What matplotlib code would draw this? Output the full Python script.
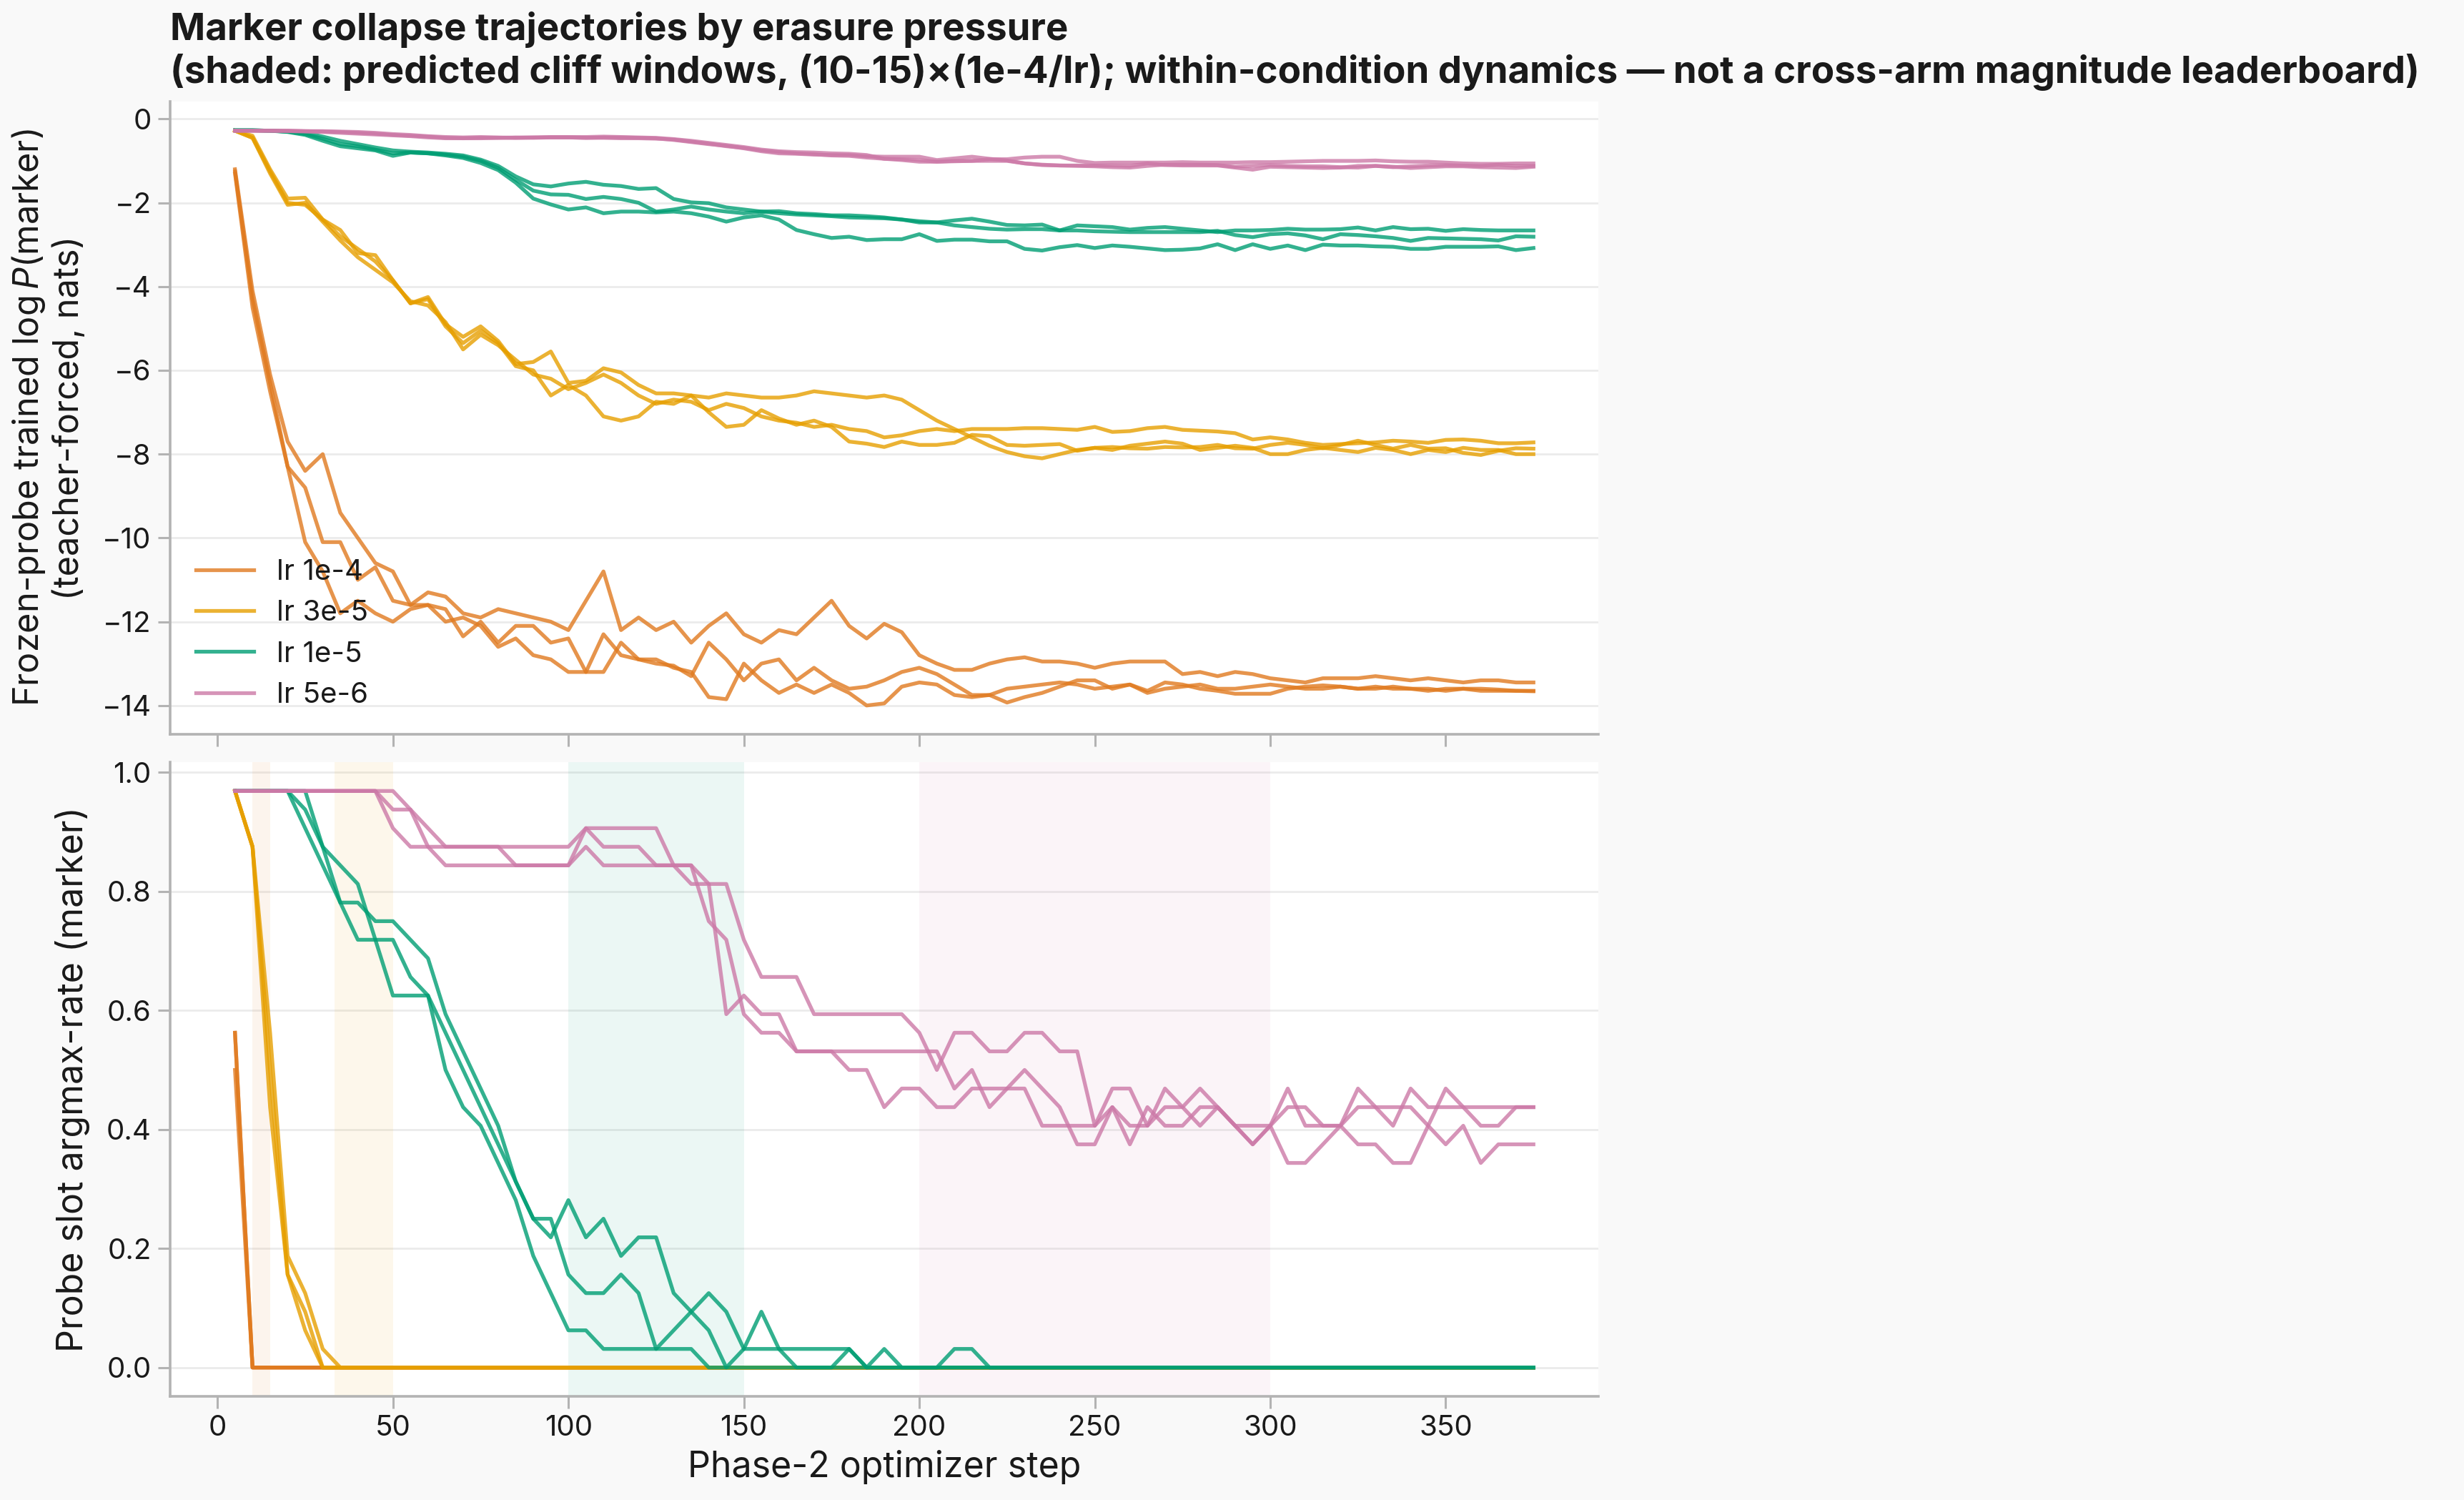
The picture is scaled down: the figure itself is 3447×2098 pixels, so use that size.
import matplotlib
matplotlib.use("Agg")
import matplotlib.pyplot as plt

# ---------------- data ----------------
STEPS = [5, 10, 15, 20, 25, 30, 35, 40, 45, 50,
         55, 60, 65, 70, 75, 80, 85, 90, 95, 100,
         105, 110, 115, 120, 125, 130, 135, 140, 145, 150,
         155, 160, 165, 170, 175, 180, 185, 190, 195, 200,
         205, 210, 215, 220, 225, 230, 235, 240, 245, 250,
         255, 260, 265, 270, 275, 280, 285, 290, 295, 300,
         305, 310, 315, 320, 325, 330, 335, 340, 345, 350,
         355, 360, 365, 370, 375]

LR_LABELS = ["lr 1e-4", "lr 3e-5", "lr 1e-5", "lr 5e-6"]
LR_VALUES = [1e-4, 3e-5, 1e-5, 5e-6]
LR_COLORS = ["#E07A1F", "#E69F00", "#009E73", "#CC79A7"]
N_PROBES = 32

# top panel: frozen-probe trained log P(marker), 3 seeds per lr
LOGP_1E4 = [
    [-1.2, -4.1, -6.1, -7.7, -8.4, -8.0, -9.4, -10.0, -10.6, -10.8,
     -11.6, -11.3, -11.4, -11.8, -11.9, -11.7, -11.8, -11.9, -12.0, -12.2,
     -11.5, -10.8, -12.2, -11.9, -12.2, -12.0, -12.5, -12.1, -11.8, -12.3,
     -12.5, -12.2, -12.3, -11.9, -11.5, -12.1, -12.4, -12.05, -12.25, -12.8,
     -13.0, -13.15, -13.15, -13.0, -12.9, -12.85, -12.95, -12.95, -13.0, -13.1,
     -13.0, -12.95, -12.95, -12.95, -13.25, -13.2, -13.3, -13.2, -13.25, -13.35,
     -13.4, -13.45, -13.35, -13.35, -13.35, -13.3, -13.35, -13.4, -13.35, -13.4,
     -13.45, -13.4, -13.4, -13.45, -13.45],
    [-1.25, -4.3, -6.3, -8.3, -8.8, -10.1, -10.1, -11.0, -10.7, -11.5,
     -11.6, -11.6, -11.7, -12.35, -12.0, -12.5, -12.1, -12.1, -12.5, -12.4,
     -13.2, -13.2, -12.5, -12.9, -13.0, -13.05, -13.3, -12.5, -12.9, -13.4,
     -13.0, -12.9, -13.4, -13.1, -13.4, -13.6, -13.55, -13.4, -13.2, -13.1,
     -13.25, -13.5, -13.75, -13.75, -13.6, -13.55, -13.5, -13.45, -13.5, -13.6,
     -13.55, -13.5, -13.7, -13.6, -13.55, -13.5, -13.6, -13.6, -13.55, -13.5,
     -13.55, -13.6, -13.6, -13.55, -13.6, -13.6, -13.55, -13.6, -13.65, -13.6,
     -13.6, -13.65, -13.65, -13.65, -13.65],
    [-1.3, -4.5, -6.5, -8.3, -10.1, -10.8, -11.8, -11.5, -11.8, -12.0,
     -11.7, -11.6, -12.0, -11.9, -12.1, -12.6, -12.4, -12.8, -12.9, -13.2,
     -13.2, -12.3, -12.8, -12.9, -12.9, -13.1, -13.2, -13.8, -13.85, -13.0,
     -13.4, -13.7, -13.5, -13.7, -13.5, -13.7, -14.0, -13.95, -13.55, -13.45,
     -13.5, -13.75, -13.8, -13.75, -13.93, -13.8, -13.7, -13.55, -13.4, -13.4,
     -13.6, -13.5, -13.65, -13.45, -13.5, -13.6, -13.65, -13.72, -13.72, -13.72,
     -13.6, -13.55, -13.52, -13.55, -13.6, -13.55, -13.6, -13.6, -13.6, -13.65,
     -13.6, -13.6, -13.62, -13.65, -13.66],
]
LOGP_3E5 = [
    [-0.28, -0.40, -1.20, -1.90, -1.88, -2.40, -2.65, -3.20, -3.25, -3.85,
     -4.40, -4.25, -4.90, -5.20, -4.95, -5.30, -5.85, -5.80, -5.55, -6.30,
     -6.25, -5.95, -6.05, -6.35, -6.55, -6.55, -6.60, -6.65, -6.55, -6.60,
     -6.65, -6.65, -6.60, -6.50, -6.55, -6.60, -6.65, -6.60, -6.70, -6.95,
     -7.20, -7.40, -7.60, -7.80, -7.95, -8.05, -8.10, -8.00, -7.90, -7.85,
     -7.90, -7.80, -7.75, -7.70, -7.75, -7.90, -7.85, -7.80, -7.85, -8.00,
     -8.00, -7.90, -7.85, -7.90, -7.95, -7.85, -7.90, -8.00, -7.90, -7.95,
     -7.85, -7.90, -7.90, -8.00, -8.00],
    [-0.28, -0.45, -1.30, -2.05, -2.00, -2.45, -2.90, -3.30, -3.60, -3.90,
     -4.35, -4.45, -4.85, -5.50, -5.15, -5.40, -5.75, -6.10, -6.20, -6.45,
     -6.30, -6.10, -6.30, -6.60, -6.80, -6.70, -6.75, -6.95, -6.80, -6.90,
     -7.10, -7.20, -7.25, -7.35, -7.30, -7.40, -7.45, -7.60, -7.55, -7.45,
     -7.40, -7.45, -7.40, -7.40, -7.40, -7.38, -7.38, -7.40, -7.42, -7.35,
     -7.47, -7.45, -7.38, -7.35, -7.42, -7.44, -7.46, -7.50, -7.65, -7.60,
     -7.65, -7.73, -7.78, -7.76, -7.74, -7.72, -7.68, -7.70, -7.73, -7.66,
     -7.65, -7.68, -7.74, -7.74, -7.72],
    [-0.28, -0.45, -1.25, -2.00, -2.05, -2.40, -2.80, -3.10, -3.40, -3.85,
     -4.40, -4.30, -4.95, -5.35, -5.05, -5.35, -5.90, -6.00, -6.60, -6.35,
     -6.60, -7.10, -7.20, -7.10, -6.75, -6.80, -6.60, -7.00, -7.35, -7.30,
     -6.95, -7.15, -7.30, -7.20, -7.35, -7.70, -7.75, -7.83, -7.70, -7.78,
     -7.78, -7.73, -7.54, -7.57, -7.78, -7.80, -7.78, -7.76, -7.92, -7.85,
     -7.83, -7.86, -7.87, -7.83, -7.84, -7.83, -7.78, -7.86, -7.87, -7.78,
     -7.73, -7.78, -7.86, -7.78, -7.68, -7.78, -7.87, -7.78, -7.87, -7.86,
     -7.97, -8.02, -7.92, -7.86, -7.87],
]
LOGP_1E5 = [
    [-0.27, -0.27, -0.28, -0.30, -0.33, -0.42, -0.52, -0.60, -0.68, -0.75,
     -0.78, -0.80, -0.83, -0.87, -0.97, -1.12, -1.37, -1.56, -1.61, -1.54,
     -1.50, -1.57, -1.60, -1.67, -1.65, -1.91, -1.99, -2.01, -2.11, -2.16,
     -2.21, -2.20, -2.25, -2.27, -2.30, -2.30, -2.32, -2.35, -2.40, -2.47,
     -2.47, -2.42, -2.38, -2.45, -2.53, -2.54, -2.52, -2.66, -2.54, -2.56,
     -2.58, -2.64, -2.60, -2.58, -2.62, -2.66, -2.70, -2.66, -2.66, -2.65,
     -2.62, -2.64, -2.64, -2.63, -2.59, -2.66, -2.58, -2.63, -2.62, -2.67,
     -2.63, -2.65, -2.66, -2.66, -2.66],
    [-0.27, -0.27, -0.28, -0.30, -0.36, -0.47, -0.60, -0.65, -0.73, -0.82,
     -0.80, -0.82, -0.85, -0.90, -1.00, -1.17, -1.45, -1.71, -1.80, -1.81,
     -1.91, -1.86, -1.91, -2.00, -2.21, -2.16, -2.09, -2.16, -2.21, -2.25,
     -2.21, -2.25, -2.28, -2.30, -2.32, -2.35, -2.36, -2.37, -2.40, -2.44,
     -2.47, -2.54, -2.58, -2.62, -2.64, -2.63, -2.63, -2.66, -2.66, -2.68,
     -2.69, -2.70, -2.70, -2.70, -2.70, -2.70, -2.67, -2.77, -2.82, -2.75,
     -2.73, -2.78, -2.87, -2.75, -2.77, -2.80, -2.84, -2.91, -2.84, -2.85,
     -2.86, -2.87, -2.90, -2.80, -2.81],
    [-0.27, -0.27, -0.28, -0.31, -0.38, -0.52, -0.65, -0.70, -0.75, -0.88,
     -0.80, -0.82, -0.87, -0.93, -1.05, -1.22, -1.52, -1.90, -2.04, -2.16,
     -2.11, -2.25, -2.21, -2.21, -2.23, -2.21, -2.25, -2.33, -2.45, -2.35,
     -2.30, -2.40, -2.65, -2.75, -2.84, -2.81, -2.89, -2.87, -2.87, -2.75,
     -2.91, -2.88, -2.88, -2.92, -2.92, -3.10, -3.14, -3.06, -3.01, -3.08,
     -3.02, -3.05, -3.09, -3.13, -3.12, -3.09, -2.99, -3.13, -2.99, -3.10,
     -3.02, -3.13, -3.00, -3.02, -3.02, -3.04, -3.05, -3.10, -3.10, -3.05,
     -3.05, -3.05, -3.04, -3.13, -3.08],
]
LOGP_5E6 = [
    [-0.28, -0.28, -0.28, -0.28, -0.29, -0.29, -0.30, -0.31, -0.33, -0.36,
     -0.38, -0.41, -0.43, -0.44, -0.43, -0.44, -0.45, -0.45, -0.44, -0.44,
     -0.45, -0.44, -0.44, -0.45, -0.46, -0.50, -0.55, -0.60, -0.64, -0.70,
     -0.77, -0.82, -0.83, -0.85, -0.86, -0.86, -0.89, -0.90, -0.90, -0.90,
     -0.98, -0.94, -0.90, -0.95, -0.99, -1.06, -1.10, -1.11, -1.11, -1.11,
     -1.11, -1.12, -1.06, -1.10, -1.11, -1.11, -1.11, -1.16, -1.21, -1.14,
     -1.15, -1.16, -1.17, -1.16, -1.12, -1.12, -1.15, -1.13, -1.11, -1.10,
     -1.11, -1.12, -1.09, -1.12, -1.12],
    [-0.28, -0.28, -0.28, -0.29, -0.30, -0.31, -0.33, -0.35, -0.37, -0.39,
     -0.41, -0.44, -0.46, -0.46, -0.45, -0.45, -0.44, -0.44, -0.43, -0.43,
     -0.43, -0.42, -0.43, -0.44, -0.45, -0.48, -0.52, -0.57, -0.62, -0.67,
     -0.73, -0.77, -0.79, -0.80, -0.82, -0.83, -0.86, -0.95, -0.96, -0.98,
     -1.02, -1.01, -1.00, -0.96, -0.96, -0.92, -0.90, -0.90, -1.00, -1.05,
     -1.04, -1.04, -1.04, -1.04, -1.03, -1.04, -1.04, -1.04, -1.03, -1.03,
     -1.02, -1.01, -1.00, -1.00, -1.00, -0.99, -1.01, -1.02, -1.02, -1.04,
     -1.06, -1.07, -1.07, -1.06, -1.06],
    [-0.28, -0.28, -0.28, -0.28, -0.29, -0.30, -0.31, -0.33, -0.35, -0.38,
     -0.40, -0.42, -0.45, -0.46, -0.46, -0.45, -0.45, -0.44, -0.44, -0.44,
     -0.45, -0.45, -0.46, -0.46, -0.47, -0.49, -0.54, -0.59, -0.65, -0.69,
     -0.75, -0.79, -0.82, -0.84, -0.87, -0.88, -0.92, -0.95, -0.98, -1.02,
     -1.02, -1.00, -1.00, -1.00, -1.00, -1.06, -1.09, -1.11, -1.12, -1.13,
     -1.15, -1.16, -1.12, -1.09, -1.09, -1.09, -1.10, -1.14, -1.12, -1.10,
     -1.12, -1.13, -1.13, -1.15, -1.16, -1.12, -1.14, -1.17, -1.15, -1.13,
     -1.13, -1.15, -1.16, -1.17, -1.14],
]

# bottom panel: probes (out of 32) whose argmax is the marker, 3 seeds per lr
ARGMAX_1E4 = [
    [18, 0, 0, 0, 0, 0, 0, 0, 0, 0, 0, 0, 0, 0, 0, 0, 0, 0, 0, 0,
     0, 0, 0, 0, 0, 0, 0, 0, 0, 0, 0, 0, 0, 0, 0, 0, 0, 0, 0, 0,
     0, 0, 0, 0, 0, 0, 0, 0, 0, 0, 0, 0, 0, 0, 0, 0, 0, 0, 0, 0,
     0, 0, 0, 0, 0, 0, 0, 0, 0, 0, 0, 0, 0, 0, 0],
    [16, 0, 0, 0, 0, 0, 0, 0, 0, 0, 0, 0, 0, 0, 0, 0, 0, 0, 0, 0,
     0, 0, 0, 0, 0, 0, 0, 0, 0, 0, 0, 0, 0, 0, 0, 0, 0, 0, 0, 0,
     0, 0, 0, 0, 0, 0, 0, 0, 0, 0, 0, 0, 0, 0, 0, 0, 0, 0, 0, 0,
     0, 0, 0, 0, 0, 0, 0, 0, 0, 0, 0, 0, 0, 0, 0],
    [18, 0, 0, 0, 0, 0, 0, 0, 0, 0, 0, 0, 0, 0, 0, 0, 0, 0, 0, 0,
     0, 0, 0, 0, 0, 0, 0, 0, 0, 0, 0, 0, 0, 0, 0, 0, 0, 0, 0, 0,
     0, 0, 0, 0, 0, 0, 0, 0, 0, 0, 0, 0, 0, 0, 0, 0, 0, 0, 0, 0,
     0, 0, 0, 0, 0, 0, 0, 0, 0, 0, 0, 0, 0, 0, 0],
]
ARGMAX_3E5 = [
    [31, 28, 18, 6, 4, 1, 0, 0, 0, 0, 0, 0, 0, 0, 0, 0, 0, 0, 0, 0,
     0, 0, 0, 0, 0, 0, 0, 0, 0, 0, 0, 0, 0, 0, 0, 0, 0, 0, 0, 0,
     0, 0, 0, 0, 0, 0, 0, 0, 0, 0, 0, 0, 0, 0, 0, 0, 0, 0, 0, 0,
     0, 0, 0, 0, 0, 0, 0, 0, 0, 0, 0, 0, 0, 0, 0],
    [31, 28, 14, 5, 3, 0, 0, 0, 0, 0, 0, 0, 0, 0, 0, 0, 0, 0, 0, 0,
     0, 0, 0, 0, 0, 0, 0, 0, 0, 0, 0, 0, 0, 0, 0, 0, 0, 0, 0, 0,
     0, 0, 0, 0, 0, 0, 0, 0, 0, 0, 0, 0, 0, 0, 0, 0, 0, 0, 0, 0,
     0, 0, 0, 0, 0, 0, 0, 0, 0, 0, 0, 0, 0, 0, 0],
    [31, 28, 16, 5, 2, 0, 0, 0, 0, 0, 0, 0, 0, 0, 0, 0, 0, 0, 0, 0,
     0, 0, 0, 0, 0, 0, 0, 0, 0, 0, 0, 0, 0, 0, 0, 0, 0, 0, 0, 0,
     0, 0, 0, 0, 0, 0, 0, 0, 0, 0, 0, 0, 0, 0, 0, 0, 0, 0, 0, 0,
     0, 0, 0, 0, 0, 0, 0, 0, 0, 0, 0, 0, 0, 0, 0],
]
ARGMAX_1E5 = [
    [31, 31, 31, 31, 30, 28, 27, 26, 23, 20,
     20, 20, 16, 14, 13, 11, 9, 6, 4, 2,
     2, 1, 1, 1, 1, 1, 1, 0, 0, 0,
     0, 0, 0, 0, 0, 0, 0, 0, 0, 0,
     0, 0, 0, 0, 0, 0, 0, 0, 0, 0,
     0, 0, 0, 0, 0, 0, 0, 0, 0, 0,
     0, 0, 0, 0, 0, 0, 0, 0, 0, 0,
     0, 0, 0, 0, 0],
    [31, 31, 31, 31, 29, 27, 25, 25, 24, 24,
     23, 22, 19, 17, 15, 13, 10, 8, 7, 9,
     7, 8, 6, 7, 7, 4, 3, 2, 0, 1,
     3, 1, 0, 0, 0, 1, 0, 1, 0, 0,
     0, 1, 1, 0, 0, 0, 0, 0, 0, 0,
     0, 0, 0, 0, 0, 0, 0, 0, 0, 0,
     0, 0, 0, 0, 0, 0, 0, 0, 0, 0,
     0, 0, 0, 0, 0],
    [31, 31, 31, 31, 31, 28, 25, 23, 23, 23,
     21, 20, 18, 16, 14, 12, 10, 8, 8, 5,
     4, 4, 5, 4, 1, 2, 3, 4, 3, 1,
     1, 1, 1, 1, 1, 1, 0, 0, 0, 0,
     0, 0, 0, 0, 0, 0, 0, 0, 0, 0,
     0, 0, 0, 0, 0, 0, 0, 0, 0, 0,
     0, 0, 0, 0, 0, 0, 0, 0, 0, 0,
     0, 0, 0, 0, 0],
]
ARGMAX_5E6 = [
    [31, 31, 31, 31, 31, 31, 31, 31, 31, 30,
     30, 29, 28, 28, 28, 28, 28, 28, 28, 28,
     29, 29, 29, 29, 29, 27, 27, 26, 26, 23,
     21, 21, 21, 19, 19, 19, 19, 19, 19, 18,
     16, 18, 18, 17, 17, 18, 18, 17, 17, 13,
     15, 15, 13, 15, 14, 15, 14, 13, 12, 13,
     15, 13, 13, 13, 15, 14, 13, 15, 14, 14,
     14, 14, 14, 14, 14],
    [31, 31, 31, 31, 31, 31, 31, 31, 31, 29,
     28, 28, 28, 28, 28, 28, 27, 27, 27, 27,
     29, 28, 28, 28, 27, 27, 27, 24, 23, 19,
     18, 18, 17, 17, 17, 16, 16, 14, 15, 15,
     14, 14, 15, 15, 15, 15, 13, 13, 13, 13,
     14, 13, 13, 14, 14, 13, 14, 13, 12, 13,
     14, 14, 13, 13, 14, 14, 14, 14, 13, 12,
     13, 11, 12, 12, 12],
    [31, 31, 31, 31, 31, 31, 31, 31, 31, 31,
     30, 28, 27, 27, 27, 27, 27, 27, 27, 27,
     28, 27, 27, 27, 27, 27, 26, 26, 19, 20,
     19, 19, 17, 17, 17, 17, 17, 17, 17, 17,
     17, 15, 16, 14, 15, 16, 15, 14, 12, 12,
     14, 12, 14, 13, 13, 14, 14, 13, 13, 13,
     11, 11, 12, 13, 12, 12, 11, 11, 13, 15,
     14, 13, 13, 14, 14],
]

LOGP = [LOGP_1E4, LOGP_3E5, LOGP_1E5, LOGP_5E6]
ARGMAX = [ARGMAX_1E4, ARGMAX_3E5, ARGMAX_1E5, ARGMAX_5E6]
# predicted cliff window: (10-15) x (1e-4 / lr)
WINDOW_LO, WINDOW_HI = 10, 15

# ---------------- style ----------------
plt.rcParams["font.family"] = ["Inter", "DejaVu Sans"]
plt.rcParams["mathtext.fontset"] = "custom"
plt.rcParams["mathtext.rm"] = "Inter"
plt.rcParams["mathtext.it"] = "Inter:italic"
plt.rcParams["axes.unicode_minus"] = True

SPINE = "#b3b3b3"
GRID = "#ebebeb"
TXT = "#1a1a1a"

fig = plt.figure(figsize=(17.24, 10.49), dpi=200, facecolor="#f9f9f9")
ax1 = fig.add_axes([0.069, 0.5105, 0.5795, 0.4218])
ax2 = fig.add_axes([0.069, 0.0691, 0.5795, 0.4228], sharex=ax1)

for ax in (ax1, ax2):
    ax.set_facecolor("white")
    for s in ("top", "right"):
        ax.spines[s].set_visible(False)
    for s in ("left", "bottom"):
        ax.spines[s].set_color(SPINE)
        ax.spines[s].set_linewidth(1.3)
    ax.grid(axis="y", color=GRID, linewidth=1.0)
    ax.set_axisbelow(True)
    ax.tick_params(colors=SPINE, labelcolor=TXT, labelsize=14.5, length=6, width=1.1)

# windows (bottom panel)
for lr, c in zip(LR_VALUES, LR_COLORS):
    ax2.axvspan(WINDOW_LO * 1e-4 / lr, WINDOW_HI * 1e-4 / lr, color=c, alpha=0.08, lw=0, zorder=0.8)

for lab, c, logp, arg in zip(LR_LABELS, LR_COLORS, LOGP, ARGMAX):
    for i, seed in enumerate(logp):
        ax1.plot(STEPS, seed, color=c, lw=1.9, alpha=0.8, label=lab if i == 0 else None)
    for seed in arg:
        ax2.plot(STEPS, [v / N_PROBES for v in seed], color=c, lw=1.9, alpha=0.8)

ax1.set_yticks([0, -2, -4, -6, -8, -10, -12, -14])
ax2.set_yticks([0.0, 0.2, 0.4, 0.6, 0.8, 1.0])
ax2.set_xticks([0, 50, 100, 150, 200, 250, 300, 350])
plt.setp(ax1.get_xticklabels(), visible=False)

ax1.set_ylabel("Frozen-probe trained $\\log P$(marker)\n(teacher-forced, nats)", fontsize=17.5, color=TXT, labelpad=8)
ax2.set_ylabel("Probe slot argmax-rate (marker)", fontsize=18, color=TXT, labelpad=8)
ax2.set_xlabel("Phase-2 optimizer step", fontsize=18, color=TXT)

leg = ax1.legend(loc="lower left", frameon=False, fontsize=14.5)
for t in leg.get_texts():
    t.set_color(TXT)

fig.text(0.069, 0.9925,
         "Marker collapse trajectories by erasure pressure\n"
         "(shaded: predicted cliff windows, (10-15)\u00d7(1e-4/lr); within-condition dynamics \u2014 not a cross-arm magnitude leaderboard)",
         ha="left", va="top", fontsize=19, fontweight="bold", color=TXT)

fig.savefig("out.png", dpi=200, facecolor=fig.get_facecolor())
